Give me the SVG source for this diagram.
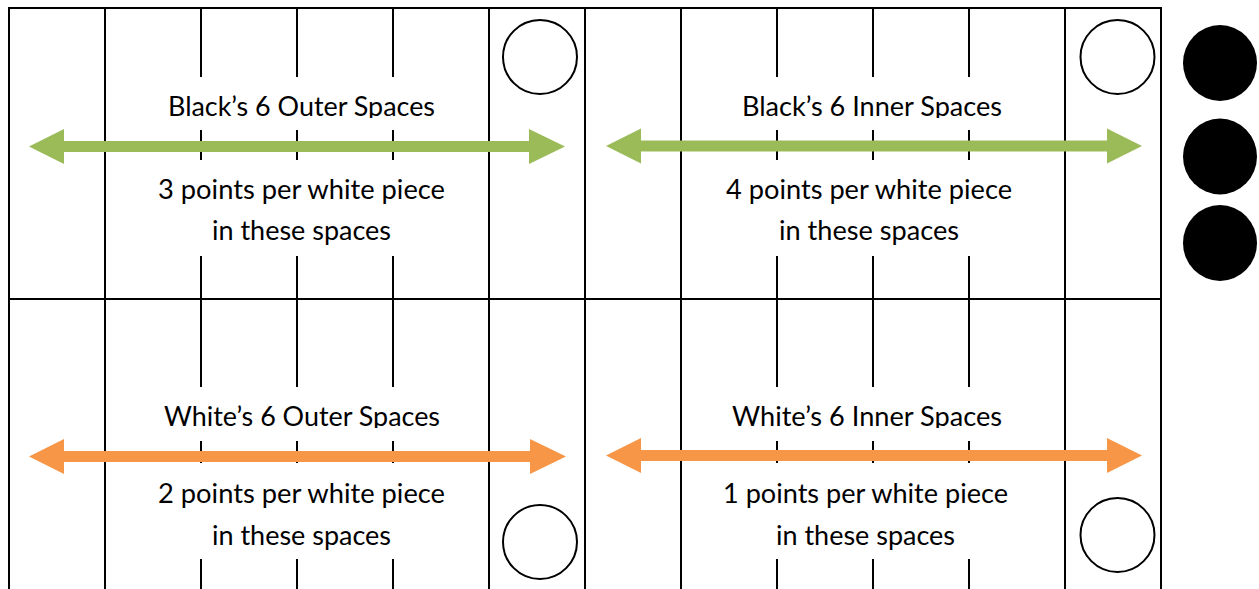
<svg xmlns="http://www.w3.org/2000/svg" width="1259" height="589" viewBox="0 0 1259 589">
<style>
.ln{stroke:#000;stroke-width:2;fill:none}
.wp{fill:#fff;stroke:#000;stroke-width:2}
.bp{fill:#000}
.t{font-family:Lato,"Liberation Sans",sans-serif;font-size:27px;fill:#000}
.g{fill:#9BBB59}
.o{fill:#F79646}
</style>
<defs>
<clipPath id="clipTop"><rect x="0" y="0" width="1259" height="118"/></clipPath>
<clipPath id="clipBot"><rect x="0" y="300" width="1259" height="128"/></clipPath>
</defs>
<rect width="1259" height="589" fill="#fff"/>
<g id="board">
<line class="ln" x1="8" y1="8" x2="1162" y2="8"/>
<line class="ln" x1="8" y1="299" x2="1162" y2="299"/>
<line class="ln" x1="9" y1="7" x2="9" y2="589"/>
<line class="ln" x1="105" y1="7" x2="105" y2="589"/>
<line class="ln" x1="489" y1="7" x2="489" y2="589"/>
<line class="ln" x1="585" y1="7" x2="585" y2="589"/>
<line class="ln" x1="681" y1="7" x2="681" y2="589"/>
<line class="ln" x1="1065" y1="7" x2="1065" y2="589"/>
<line class="ln" x1="1161" y1="7" x2="1161" y2="589"/>
<path class="ln" d="M201 8V77M201 130V160M201 256V299M297 8V77M297 130V160M297 256V299M393 8V77M393 130V160M393 256V299M777 8V77M777 130V160M777 256V299M873 8V77M873 130V160M873 256V299M969 8V77M969 130V160M969 256V299"/>
<path class="ln" d="M201 299V387M201 441V463M201 559V589M297 299V387M297 441V463M297 559V589M393 299V387M393 441V463M393 559V589M777 299V387M777 441V463M777 559V589M873 299V387M873 441V463M873 559V589M969 299V387M969 441V463M969 559V589"/>
</g>
<g id="pieces">
<circle id="white-piece-1" class="wp" cx="540" cy="57" r="37"/>
<circle id="white-piece-2" class="wp" cx="1117.5" cy="57" r="37"/>
<circle id="white-piece-3" class="wp" cx="540" cy="542" r="37"/>
<circle id="white-piece-4" class="wp" cx="1117.5" cy="535" r="37"/>
<ellipse id="black-piece-1" class="bp" cx="1220" cy="63" rx="37" ry="38"/>
<ellipse id="black-piece-2" class="bp" cx="1220" cy="156.5" rx="37" ry="38"/>
<ellipse id="black-piece-3" class="bp" cx="1220" cy="243" rx="37" ry="38"/>
</g>
<g id="connectors">
<polygon class="g" points="29,146.5 64,129 64,141 529,141 529,129 565,146.5 529,164 529,152 64,152 64,164"/>
<polygon class="g" points="606,146 641,128.5 641,140.5 1107,140.5 1107,128.5 1142,146 1107,163.5 1107,151.5 641,151.5 641,163.5"/>
<polygon class="o" points="29,456.5 64,439 64,451 530,451 530,439 566,456.5 530,474 530,462 64,462 64,474"/>
<polygon class="o" points="606,455.5 641,438 641,450 1107,450 1107,438 1142,455.5 1107,473 1107,461 641,461 641,473"/>
</g>
<g id="black-outer">
<text class="t" x="168" y="116" textLength="267" lengthAdjust="spacingAndGlyphs" clip-path="url(#clipTop)">Black’s 6 Outer Spaces</text>
<text class="t" x="158" y="199" textLength="287" lengthAdjust="spacingAndGlyphs">3 points per white piece</text>
<text class="t" x="212" y="240" textLength="179" lengthAdjust="spacingAndGlyphs">in these spaces</text>
</g>
<g id="black-inner">
<text class="t" x="742" y="116" textLength="260" lengthAdjust="spacingAndGlyphs" clip-path="url(#clipTop)">Black’s 6 Inner Spaces</text>
<text class="t" x="726" y="199" textLength="286" lengthAdjust="spacingAndGlyphs">4 points per white piece</text>
<text class="t" x="779" y="240" textLength="180" lengthAdjust="spacingAndGlyphs">in these spaces</text>
</g>
<g id="white-outer">
<text class="t" x="164" y="426" textLength="276" lengthAdjust="spacingAndGlyphs" clip-path="url(#clipBot)">White’s 6 Outer Spaces</text>
<text class="t" x="158" y="503" textLength="287" lengthAdjust="spacingAndGlyphs">2 points per white piece</text>
<text class="t" x="212" y="545" textLength="179" lengthAdjust="spacingAndGlyphs">in these spaces</text>
</g>
<g id="white-inner">
<text class="t" x="732" y="426" textLength="270" lengthAdjust="spacingAndGlyphs" clip-path="url(#clipBot)">White’s 6 Inner Spaces</text>
<text class="t" x="723" y="503" textLength="285" lengthAdjust="spacingAndGlyphs">1 points per white piece</text>
<text class="t" x="776" y="545" textLength="179" lengthAdjust="spacingAndGlyphs">in these spaces</text>
</g>
</svg>
